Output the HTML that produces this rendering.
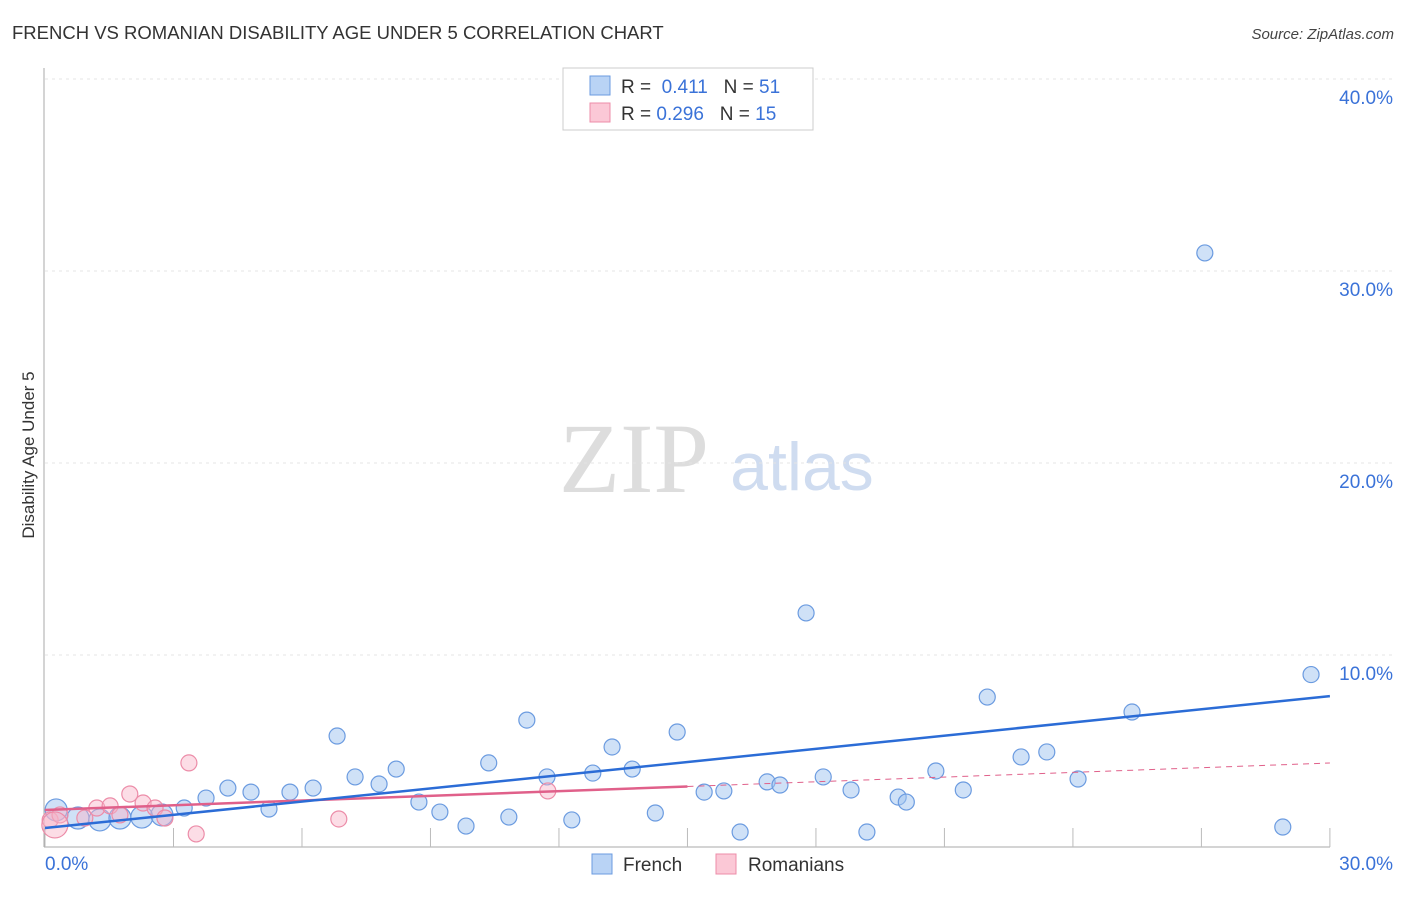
<!DOCTYPE html>
<html><head><meta charset="utf-8"><style>
body{margin:0;background:#fff;font-family:"Liberation Sans",sans-serif}
</style></head><body>
<svg id="chart" width="1406" height="892" xmlns="http://www.w3.org/2000/svg" font-family="Liberation Sans, sans-serif">
<text x="12" y="39" font-size="18.5" fill="#333">FRENCH VS ROMANIAN DISABILITY AGE UNDER 5 CORRELATION CHART</text>
<text x="1394" y="39" font-size="15" fill="#444" font-style="italic" text-anchor="end">Source: ZipAtlas.com</text>
<text x="634" y="492" font-size="100" fill="#ddd" style="font-family:'Liberation Serif',serif" text-anchor="middle">ZIP</text>
<text x="802" y="490" font-size="68" fill="#cfdcf0" text-anchor="middle">atlas</text>
<text transform="translate(34,455) rotate(-90)" font-size="17" fill="#333" text-anchor="middle">Disability Age Under 5</text>
<g id="grid"></g><g id="marks"></g>
<g>
<rect x="563" y="68" width="250" height="62" fill="#fff" stroke="#ccc"/>
<rect x="590" y="76" width="20" height="19" fill="#b9d3f5" stroke="#6b9be0"/>
<rect x="590" y="103" width="20" height="19" fill="#fbc8d6" stroke="#ec8ca8"/>
<text x="621" y="93" font-size="19" fill="#333">R = <tspan fill="#3a72d8">&#160;0.411</tspan>&#160;&#160;&#160;N = <tspan fill="#3a72d8">51</tspan></text>
<text x="621" y="120" font-size="19" fill="#333">R = <tspan fill="#3a72d8">0.296</tspan>&#160;&#160;&#160;N = <tspan fill="#3a72d8">15</tspan></text>
</g>
<g>
<rect x="592" y="854" width="20" height="20" fill="#b9d3f5" stroke="#6b9be0"/>
<text x="623" y="871" font-size="19" fill="#333">French</text>
<rect x="716" y="854" width="20" height="20" fill="#fbc8d6" stroke="#ec8ca8"/>
<text x="748" y="871" font-size="19" fill="#333">Romanians</text>
</g>
</svg>
<script>
const frenchX=[0.26,0.77,1.28,1.75,2.26,2.73,3.25,3.76,4.27,4.81,5.23,5.72,6.26,6.82,7.24,7.8,8.2,8.73,9.22,9.83,10.36,10.83,11.25,11.72,12.3,12.79,13.24,13.71,14.25,14.76,15.39,15.85,16.23,16.86,17.16,17.77,18.17,18.82,19.19,19.92,20.11,20.8,21.44,22.0,22.79,23.39,24.12,25.38,27.08,28.9,29.56];
const frenchY=[1.93,1.51,1.41,1.51,1.56,1.67,2.03,2.55,3.07,2.86,1.98,2.86,3.07,5.78,3.65,3.28,4.06,2.34,1.82,1.09,4.38,1.56,6.61,3.65,1.41,3.85,5.21,4.06,1.77,5.99,2.86,2.92,0.78,3.39,3.23,12.19,3.65,2.97,0.78,2.6,2.34,3.96,2.97,7.81,4.69,4.95,3.54,7.03,30.94,1.04,8.98];
const romX=[0.12,0.35,0.93,1.21,1.52,1.98,2.29,2.57,2.8,3.36,3.53,6.86,11.74,1.75,0.23];
const romY=[1.41,1.67,1.51,2.03,2.14,2.76,2.29,2.03,1.51,4.38,0.68,1.46,2.92,1.67,1.15];
const frenchTrend=[0.99,7.86];
const romTrend=[1.93,4.375];
const romSolidEnd=15;
const yTicks=[10,20,30,40];
const yTickLabels=["10.0%","20.0%","30.0%","40.0%"];
const xTickVals=[0,3,6,9,12,15,18,21,24,27,30];
const sx=v=>45+v*42.83, sy=v=>847-v*19.2;
const NS="http://www.w3.org/2000/svg";
function mk(t,a,p){const e=document.createElementNS(NS,t);for(const k in a)e.setAttribute(k,a[k]);p.appendChild(e);return e;}
const grid=document.getElementById('grid'), marks=document.getElementById('marks');
yTicks.forEach((v,i)=>{
  const l=mk('line',{x1:45,x2:1394,y1:sy(v),y2:sy(v),stroke:'#e4e4e4','stroke-dasharray':'3,4'},grid);
  
  
  const t=mk('text',{x:1393,y:sy(v)+25,'font-size':19,fill:'#3a72d8','text-anchor':'end'},grid);
  t.textContent=yTickLabels[i];
  
  
});
const ax=mk('line',{x1:44,x2:44,y1:68,y2:847,stroke:'#aaa'},grid);


const bx=mk('line',{x1:44,x2:1330,y1:847,y2:847,stroke:'#aaa'},grid);


xTickVals.forEach(v=>{
  const l=mk('line',{x1:sx(v),x2:sx(v),y1:828,y2:847,stroke:'#bbb'},grid);
  
  
});
const x0=mk('text',{x:45,y:870,'font-size':19,fill:'#3a72d8'},grid);x0.textContent='0.0%';


const x1=mk('text',{x:1393,y:870,'font-size':19,fill:'#3a72d8','text-anchor':'end'},grid);x1.textContent='30.0%';


frenchX.forEach((x,i)=>{
  const c=mk('circle',{cx:sx(x),cy:sy(frenchY[i]),r:i<6?11:8,fill:'rgba(160,196,240,0.5)',stroke:'#6b9be0','stroke-width':1.2},marks);
  
  
});
romX.forEach((x,i)=>{
  const c=mk('circle',{cx:sx(x),cy:sy(romY[i]),r:i==14?13:8,fill:'rgba(248,180,200,0.45)',stroke:'#ec8ca8','stroke-width':1.2},marks);
  
  
});
const ry=v=>romTrend[0]+(romTrend[1]-romTrend[0])*v/30;
const rl=mk('line',{x1:sx(0),y1:sy(ry(0)),x2:sx(romSolidEnd),y2:sy(ry(romSolidEnd)),stroke:'#e0608a','stroke-width':2.5},marks);


const rd=mk('line',{x1:sx(romSolidEnd),y1:sy(ry(romSolidEnd)),x2:sx(30),y2:sy(ry(30)),stroke:'#e0608a','stroke-width':1,'stroke-dasharray':'6,5'},marks);


const fl=mk('line',{x1:sx(0),y1:sy(frenchTrend[0]),x2:sx(30),y2:sy(frenchTrend[1]),stroke:'#2b6cd6','stroke-width':2.5},marks);


</script>
</body></html>
